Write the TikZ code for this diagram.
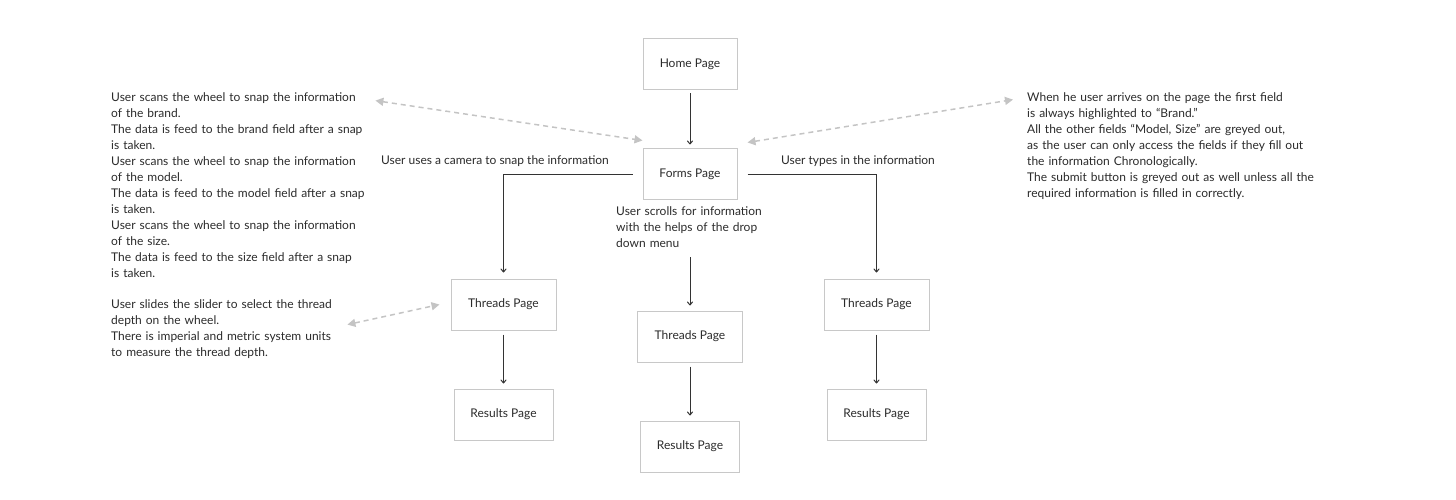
\documentclass[tikz,border=0pt]{standalone}
\usepackage{fontspec}
\setmainfont{Lato}
\usetikzlibrary{arrows.meta}
\usetikzlibrary{positioning}
\definecolor{boxgray}{HTML}{C8C8C8}
\definecolor{dashgray}{HTML}{C4C4C4}
\definecolor{ink}{HTML}{2B2B2B}
\tikzstyle{page} = [draw=boxgray, line width=1pt, minimum height=51pt, minimum width=94pt, inner xsep=14pt, text=ink, font=\fontsize{12}{16}\selectfont]
\tikzstyle{note} = [anchor=north west, inner sep=0pt, align=left, text=ink, font=\fontsize{12}{16}\selectfont]
\tikzstyle{remark} = [inner sep=0pt, text=ink, font=\fontsize{12}{16}\selectfont]
\tikzstyle{arrow} = [->, >={To[length=4pt,width=6pt]}, line width=1pt, black!80]
\tikzstyle{hint} = [{Triangle[length=8pt,width=8pt]}-{Triangle[length=8pt,width=8pt]}, dash pattern=on 5pt off 4pt, line width=1.5pt, dashgray]

\begin{document}
\begin{tikzpicture}[x=1pt, y=-1pt, node distance=58pt]
\useasboundingbox (0,0) rectangle (1456,500);

\node[page] (home) at (690,64) {Home Page};
\node[page, below=of home] (forms) {Forms Page};
\node[page, minimum width=105pt] (lthreads) at (503.5,304.5) {Threads Page};
\node[page, minimum width=99pt, below=of lthreads] (lresults) {Results Page};
\node[page, minimum width=105pt] (mthreads) at (690,336.5) {Threads Page};
\node[page, minimum width=99pt, below=of mthreads] (mresults) {Results Page};
\node[page, minimum width=105pt] (rthreads) at (876.5,304.5) {Threads Page};
\node[page, minimum width=99pt, below=of rthreads] (rresults) {Results Page};

\node[remark] (camera) at (495,161) {User uses a camera to snap the information};
\node[remark] (types) at (858,161) {User types in the information};
\node[note, text width=160pt] (scroll) at (616,206.1) {User scrolls for information\\with the helps of the drop\\down menu};

\node[note, text width=260pt] (scan) at (111,92.1) {User scans the wheel to snap the information\\
of the brand.\\
The data is feed to the brand field after a snap\\
is taken.\\
User scans the wheel to snap the information\\
of the model.\\
The data is feed to the model field after a snap\\
is taken.\\
User scans the wheel to snap the information\\
of the size.\\
The data is feed to the size field after a snap\\
is taken.};
\node[note, text width=235pt] (slide) at (111,299.1) {User slides the slider to select the thread\\
depth on the wheel.\\
There is imperial and metric system units\\
to measure the thread depth.};
\node[note, text width=345pt] (rule) at (1027,92.1) {When he user arrives on the page the first field\\
is always highlighted to “Brand.”\\
All the other fields “Model, Size” are greyed out,\\
as the user can only access the fields if they fill out\\
the information Chronologically.\\
The submit button is greyed out as well unless all the\\
required information is filled in correctly.};

\draw[arrow, shorten <=3.5pt, shorten >=3.5pt] (home) -- (forms);
\draw[arrow, shorten <=10pt, shorten >=6pt] (forms.west) -| (lthreads.north);
\draw[arrow, shorten <=10pt, shorten >=6pt] (forms.east) -| (rthreads.north);
\draw[arrow, shorten >=5pt] ([yshift=-10pt]scroll.south -| mthreads.north) -- (mthreads.north);
\draw[arrow, shorten <=4pt, shorten >=5pt] (lthreads) -- (lresults);
\draw[arrow, shorten <=4pt, shorten >=5pt] (mthreads) -- (mresults);
\draw[arrow, shorten <=4pt, shorten >=5pt] (rthreads) -- (rresults);

\draw[hint] ([xshift=4pt,yshift=-8.5pt]scan.north east) -- ([yshift=7.5pt]forms.north west);
\draw[hint] ([xshift=10pt,yshift=5.5pt]forms.north east) -- ([xshift=-14pt,yshift=-7.5pt]rule.north west);
\draw[hint] ([xshift=1pt,yshift=-25.5pt]slide.north east) -- ([xshift=-11pt]lthreads.west);
\end{tikzpicture}
\end{document}
